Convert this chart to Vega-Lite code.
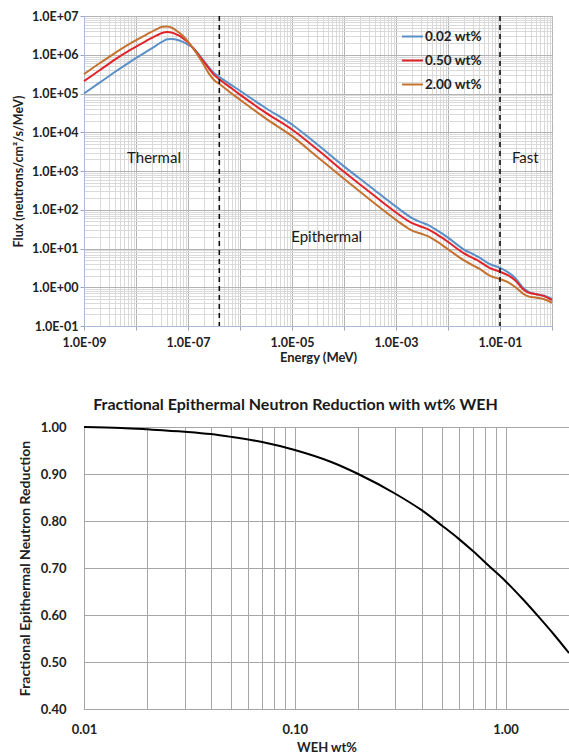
{
  "$schema": "https://vega.github.io/schema/vega-lite/v6.json",
  "background": "white",
  "padding": {"left": 11, "top": 9, "right": 0, "bottom": 0},
  "spacing": 31,
  "config": {"font": "Lato", "axis": {"labelFont": "Lato", "titleFont": "Lato"}},
  "datasets": {
    "flux": [
      {"E": 1e-9, "s": "0.02 wt%", "flux": 1.0e5}, {"E": 1.995e-9, "s": "0.02 wt%", "flux": 1.905e5}, {"E": 3.981e-9, "s": "0.02 wt%", "flux": 3.631e5}, {"E": 7.943e-9, "s": "0.02 wt%", "flux": 6.761e5}, {"E": 1.585e-8, "s": "0.02 wt%", "flux": 1.202e6}, {"E": 2.512e-8, "s": "0.02 wt%", "flux": 1.778e6}, {"E": 3.162e-8, "s": "0.02 wt%", "flux": 2.138e6}, {"E": 3.981e-8, "s": "0.02 wt%", "flux": 2.512e6}, {"E": 5.012e-8, "s": "0.02 wt%", "flux": 2.541e6}, {"E": 6.310e-8, "s": "0.02 wt%", "flux": 2.399e6}, {"E": 7.943e-8, "s": "0.02 wt%", "flux": 2.138e6}, {"E": 1e-7, "s": "0.02 wt%", "flux": 1.820e6}, {"E": 1.202e-7, "s": "0.02 wt%", "flux": 1.585e6}, {"E": 1.585e-7, "s": "0.02 wt%", "flux": 1.047e6}, {"E": 1.995e-7, "s": "0.02 wt%", "flux": 7.079e5}, {"E": 2.512e-7, "s": "0.02 wt%", "flux": 4.786e5}, {"E": 3.162e-7, "s": "0.02 wt%", "flux": 3.388e5}, {"E": 3.981e-7, "s": "0.02 wt%", "flux": 2.692e5}, {"E": 6.310e-7, "s": "0.02 wt%", "flux": 1.778e5}, {"E": 1e-6, "s": "0.02 wt%", "flux": 1.175e5}, {"E": 3.162e-6, "s": "0.02 wt%", "flux": 4.169e4}, {"E": 1e-5, "s": "0.02 wt%", "flux": 1.585e4}, {"E": 3.162e-5, "s": "0.02 wt%", "flux": 4677}, {"E": 1e-4, "s": "0.02 wt%", "flux": 1318}, {"E": 3.162e-4, "s": "0.02 wt%", "flux": 398.1}, {"E": 1e-3, "s": "0.02 wt%", "flux": 120.2}, {"E": 1.995e-3, "s": "0.02 wt%", "flux": 62.0}, {"E": 3.162e-3, "s": "0.02 wt%", "flux": 46.5}, {"E": 3.981e-3, "s": "0.02 wt%", "flux": 41.5}, {"E": 6.310e-3, "s": "0.02 wt%", "flux": 28.84}, {"E": 0.01, "s": "0.02 wt%", "flux": 19.05}, {"E": 0.01995, "s": "0.02 wt%", "flux": 9.55}, {"E": 0.03162, "s": "0.02 wt%", "flux": 6.918}, {"E": 0.03981, "s": "0.02 wt%", "flux": 5.888}, {"E": 0.0631, "s": "0.02 wt%", "flux": 3.981}, {"E": 0.1, "s": "0.02 wt%", "flux": 3.162}, {"E": 0.1413, "s": "0.02 wt%", "flux": 2.455}, {"E": 0.1995, "s": "0.02 wt%", "flux": 1.698}, {"E": 0.2818, "s": "0.02 wt%", "flux": 0.955}, {"E": 0.3548, "s": "0.02 wt%", "flux": 0.759}, {"E": 0.5012, "s": "0.02 wt%", "flux": 0.661}, {"E": 0.7079, "s": "0.02 wt%", "flux": 0.603}, {"E": 1.0, "s": "0.02 wt%", "flux": 0.501},
      {"E": 1e-9, "s": "0.50 wt%", "flux": 2.089e5}, {"E": 1.995e-9, "s": "0.50 wt%", "flux": 3.981e5}, {"E": 3.981e-9, "s": "0.50 wt%", "flux": 7.586e5}, {"E": 7.943e-9, "s": "0.50 wt%", "flux": 1.349e6}, {"E": 1.585e-8, "s": "0.50 wt%", "flux": 2.291e6}, {"E": 2.512e-8, "s": "0.50 wt%", "flux": 3.162e6}, {"E": 3.162e-8, "s": "0.50 wt%", "flux": 3.631e6}, {"E": 3.981e-8, "s": "0.50 wt%", "flux": 3.846e6}, {"E": 5.012e-8, "s": "0.50 wt%", "flux": 3.715e6}, {"E": 6.310e-8, "s": "0.50 wt%", "flux": 3.236e6}, {"E": 7.943e-8, "s": "0.50 wt%", "flux": 2.692e6}, {"E": 1e-7, "s": "0.50 wt%", "flux": 2.089e6}, {"E": 1.202e-7, "s": "0.50 wt%", "flux": 1.585e6}, {"E": 1.585e-7, "s": "0.50 wt%", "flux": 1.0e6}, {"E": 1.995e-7, "s": "0.50 wt%", "flux": 6.607e5}, {"E": 2.512e-7, "s": "0.50 wt%", "flux": 4.467e5}, {"E": 3.162e-7, "s": "0.50 wt%", "flux": 3.020e5}, {"E": 3.981e-7, "s": "0.50 wt%", "flux": 2.344e5}, {"E": 6.310e-7, "s": "0.50 wt%", "flux": 1.479e5}, {"E": 1e-6, "s": "0.50 wt%", "flux": 9.333e4}, {"E": 3.162e-6, "s": "0.50 wt%", "flux": 3.162e4}, {"E": 1e-5, "s": "0.50 wt%", "flux": 1.175e4}, {"E": 3.162e-5, "s": "0.50 wt%", "flux": 3467}, {"E": 1e-4, "s": "0.50 wt%", "flux": 955.0}, {"E": 3.162e-4, "s": "0.50 wt%", "flux": 281.8}, {"E": 1e-3, "s": "0.50 wt%", "flux": 85.11}, {"E": 1.995e-3, "s": "0.50 wt%", "flux": 45.9}, {"E": 3.162e-3, "s": "0.50 wt%", "flux": 36.0}, {"E": 3.981e-3, "s": "0.50 wt%", "flux": 32.0}, {"E": 6.310e-3, "s": "0.50 wt%", "flux": 22.39}, {"E": 0.01, "s": "0.50 wt%", "flux": 14.79}, {"E": 0.01995, "s": "0.50 wt%", "flux": 7.586}, {"E": 0.03162, "s": "0.50 wt%", "flux": 5.495}, {"E": 0.03981, "s": "0.50 wt%", "flux": 4.677}, {"E": 0.0631, "s": "0.50 wt%", "flux": 3.162}, {"E": 0.1, "s": "0.50 wt%", "flux": 2.512}, {"E": 0.1413, "s": "0.50 wt%", "flux": 2.042}, {"E": 0.1995, "s": "0.50 wt%", "flux": 1.479}, {"E": 0.2818, "s": "0.50 wt%", "flux": 0.871}, {"E": 0.3548, "s": "0.50 wt%", "flux": 0.724}, {"E": 0.5012, "s": "0.50 wt%", "flux": 0.661}, {"E": 0.7079, "s": "0.50 wt%", "flux": 0.589}, {"E": 1.0, "s": "0.50 wt%", "flux": 0.468},
      {"E": 1e-9, "s": "2.00 wt%", "flux": 3.162e5}, {"E": 1.995e-9, "s": "2.00 wt%", "flux": 6.026e5}, {"E": 3.981e-9, "s": "2.00 wt%", "flux": 1.122e6}, {"E": 7.943e-9, "s": "2.00 wt%", "flux": 1.995e6}, {"E": 1.585e-8, "s": "2.00 wt%", "flux": 3.311e6}, {"E": 2.512e-8, "s": "2.00 wt%", "flux": 4.571e6}, {"E": 3.162e-8, "s": "2.00 wt%", "flux": 5.248e6}, {"E": 3.981e-8, "s": "2.00 wt%", "flux": 5.370e6}, {"E": 5.012e-8, "s": "2.00 wt%", "flux": 4.898e6}, {"E": 6.310e-8, "s": "2.00 wt%", "flux": 3.981e6}, {"E": 7.943e-8, "s": "2.00 wt%", "flux": 3.090e6}, {"E": 1e-7, "s": "2.00 wt%", "flux": 2.188e6}, {"E": 1.202e-7, "s": "2.00 wt%", "flux": 1.585e6}, {"E": 1.585e-7, "s": "2.00 wt%", "flux": 9.120e5}, {"E": 1.995e-7, "s": "2.00 wt%", "flux": 5.623e5}, {"E": 2.512e-7, "s": "2.00 wt%", "flux": 3.311e5}, {"E": 3.162e-7, "s": "2.00 wt%", "flux": 2.239e5}, {"E": 3.981e-7, "s": "2.00 wt%", "flux": 1.778e5}, {"E": 6.310e-7, "s": "2.00 wt%", "flux": 1.096e5}, {"E": 1e-6, "s": "2.00 wt%", "flux": 6.918e4}, {"E": 3.162e-6, "s": "2.00 wt%", "flux": 2.239e4}, {"E": 1e-5, "s": "2.00 wt%", "flux": 7943}, {"E": 3.162e-5, "s": "2.00 wt%", "flux": 2239}, {"E": 1e-4, "s": "2.00 wt%", "flux": 631.0}, {"E": 3.162e-4, "s": "2.00 wt%", "flux": 182.0}, {"E": 1e-3, "s": "2.00 wt%", "flux": 54.95}, {"E": 1.995e-3, "s": "2.00 wt%", "flux": 29.5}, {"E": 3.162e-3, "s": "2.00 wt%", "flux": 23.6}, {"E": 3.981e-3, "s": "2.00 wt%", "flux": 21.2}, {"E": 6.310e-3, "s": "2.00 wt%", "flux": 14.79}, {"E": 0.01, "s": "2.00 wt%", "flux": 9.55}, {"E": 0.01995, "s": "2.00 wt%", "flux": 5.012}, {"E": 0.03162, "s": "2.00 wt%", "flux": 3.548}, {"E": 0.03981, "s": "2.00 wt%", "flux": 3.020}, {"E": 0.0631, "s": "2.00 wt%", "flux": 1.995}, {"E": 0.1, "s": "2.00 wt%", "flux": 1.622}, {"E": 0.1413, "s": "2.00 wt%", "flux": 1.349}, {"E": 0.1995, "s": "2.00 wt%", "flux": 1.0}, {"E": 0.2818, "s": "2.00 wt%", "flux": 0.676}, {"E": 0.3548, "s": "2.00 wt%", "flux": 0.575}, {"E": 0.5012, "s": "2.00 wt%", "flux": 0.537}, {"E": 0.7079, "s": "2.00 wt%", "flux": 0.490}, {"E": 1.0, "s": "2.00 wt%", "flux": 0.398}
    ],
    "cutoffs": [{"E": 4e-7}, {"E": 0.1}],
    "regions": [
      {"E": 2.22e-8, "flux": 2163, "label": "Thermal"},
      {"E": 4.64e-5, "flux": 20.2, "label": "Epithermal"},
      {"E": 0.307, "flux": 2163, "label": "Fast"}
    ],
    "reduction": [
      {"wt": 0.01, "frac": 1.0}, {"wt": 0.015, "frac": 0.998}, {"wt": 0.02, "frac": 0.995}, {"wt": 0.03, "frac": 0.990}, {"wt": 0.04, "frac": 0.985}, {"wt": 0.05, "frac": 0.979}, {"wt": 0.07, "frac": 0.968}, {"wt": 0.1, "frac": 0.951}, {"wt": 0.15, "frac": 0.925}, {"wt": 0.2, "frac": 0.900}, {"wt": 0.3, "frac": 0.858}, {"wt": 0.4, "frac": 0.823}, {"wt": 0.5, "frac": 0.790}, {"wt": 0.6, "frac": 0.762}, {"wt": 0.7, "frac": 0.736}, {"wt": 0.85, "frac": 0.701}, {"wt": 1.0, "frac": 0.672}, {"wt": 1.2, "frac": 0.635}, {"wt": 1.43, "frac": 0.597}, {"wt": 1.7, "frac": 0.558}, {"wt": 2.0, "frac": 0.519}
    ]
  },
  "vconcat": [
    {
      "width": 468,
      "height": 310,
      "view": {"stroke": "#9dbbdc", "strokeWidth": 1},
      "layer": [
        {
          "data": {"name": "flux"},
          "mark": {"type": "line", "strokeWidth": 2, "interpolate": "monotone"},
          "encoding": {
            "x": {
              "field": "E", "type": "quantitative", "title": "Energy (MeV)",
              "scale": {"type": "log", "domain": [1e-9, 1]},
              "axis": {
                "values": [1e-9, 2e-9, 3e-9, 4e-9, 5e-9, 6e-9, 7e-9, 8e-9, 9e-9, 1e-8, 2e-8, 3e-8, 4e-8, 5e-8, 6e-8, 7e-8, 8e-8, 9e-8, 1e-7, 2e-7, 3e-7, 4e-7, 5e-7, 6e-7, 7e-7, 8e-7, 9e-7, 1e-6, 2e-6, 3e-6, 4e-6, 5e-6, 6e-6, 7e-6, 8e-6, 9e-6, 1e-5, 2e-5, 3e-5, 4e-5, 5e-5, 6e-5, 7e-5, 8e-5, 9e-5, 1e-4, 2e-4, 3e-4, 4e-4, 5e-4, 6e-4, 7e-4, 8e-4, 9e-4, 1e-3, 2e-3, 3e-3, 4e-3, 5e-3, 6e-3, 7e-3, 8e-3, 9e-3, 0.01, 0.02, 0.03, 0.04, 0.05, 0.06, 0.07, 0.08, 0.09, 0.1, 0.2, 0.3, 0.4, 0.5, 0.6, 0.7, 0.8, 0.9, 1],
                "labelExpr": "abs(log(datum.value)/LN10 - round(log(datum.value)/LN10)) < 0.001 && round(log(datum.value)/LN10) % 2 != 0 ? '1.0E-0' + abs(round(log(datum.value)/LN10)) : ''",
                "labelOverlap": false, "labelFlush": false,
                "labelFontSize": 12.5, "labelFontWeight": "bold", "labelColor": "#222222", "labelPadding": 6,
                "tickSize": 4, "tickColor": "#9aa8b8",
                "tickOpacity": {"condition": {"test": "abs(log(datum.value)/LN10 - round(log(datum.value)/LN10)) < 0.001", "value": 1}, "value": 0},
                "gridColor": {"condition": {"test": "abs(log(datum.value)/LN10 - round(log(datum.value)/LN10)) < 0.001", "value": "#b3b3b3"}, "value": "#d9d9d9"},
                "gridWidth": 1,
                "domainColor": "#a9bdd6",
                "titleFontSize": 13, "titleFontWeight": "bold", "titleColor": "#222222", "titlePadding": 3
              }
            },
            "y": {
              "field": "flux", "type": "quantitative", "title": "Flux (neutrons/cm²/s/MeV)",
              "scale": {"type": "log", "domain": [0.1, 1e7]},
              "axis": {
                "values": [0.1, 0.2, 0.3, 0.4, 0.5, 0.6, 0.7, 0.8, 0.9, 1, 2, 3, 4, 5, 6, 7, 8, 9, 10, 20, 30, 40, 50, 60, 70, 80, 90, 100, 200, 300, 400, 500, 600, 700, 800, 900, 1000, 2000, 3000, 4000, 5000, 6000, 7000, 8000, 9000, 10000, 20000, 30000, 40000, 50000, 60000, 70000, 80000, 90000, 100000, 200000, 300000, 400000, 500000, 600000, 700000, 800000, 900000, 1000000, 2000000, 3000000, 4000000, 5000000, 6000000, 7000000, 8000000, 9000000, 10000000],
                "labelExpr": "abs(log(datum.value)/LN10 - round(log(datum.value)/LN10)) < 0.001 ? '1.0E' + (round(log(datum.value)/LN10) < 0 ? '-0' : '+0') + abs(round(log(datum.value)/LN10)) : ''",
                "labelOverlap": false, "labelFlush": false,
                "labelFontSize": 12.5, "labelFontWeight": "bold", "labelColor": "#222222", "labelPadding": 2,
                "tickSize": 4, "tickColor": "#9aa8b8",
                "tickOpacity": {"condition": {"test": "abs(log(datum.value)/LN10 - round(log(datum.value)/LN10)) < 0.001", "value": 1}, "value": 0},
                "gridColor": {"condition": {"test": "abs(log(datum.value)/LN10 - round(log(datum.value)/LN10)) < 0.001", "value": "#b3b3b3"}, "value": "#dadada"},
                "gridWidth": 1,
                "domainColor": "#a9bdd6",
                "titleFontSize": 12.5, "titleFontWeight": "bold", "titleColor": "#222222",
                "titleX": -66, "titleY": 155, "titleBaseline": "middle", "titleAngle": -90, "titleAlign": "center"
              }
            },
            "color": {
              "field": "s", "type": "nominal",
              "scale": {"domain": ["0.02 wt%", "0.50 wt%", "2.00 wt%"], "range": ["#5b8fc7", "#e2242a", "#c5722f"]},
              "legend": {
                "orient": "none", "legendX": 317, "legendY": 9, "title": null,
                "symbolType": "stroke", "symbolSize": 441, "symbolStrokeWidth": 2,
                "labelFont": "Lato", "labelFontSize": 13.5, "labelFontWeight": "bold", "labelColor": "#222222",
                "labelOffset": 1, "rowPadding": 6, "padding": 0
              }
            }
          }
        },
        {
          "data": {"name": "cutoffs"},
          "mark": {"type": "rule", "color": "#111111", "strokeWidth": 1.6, "strokeDash": [5, 4]},
          "encoding": {"x": {"field": "E", "type": "quantitative"}}
        },
        {
          "data": {"name": "regions"},
          "mark": {"type": "text", "font": "Lato", "fontSize": 15, "color": "#1a1a1a", "align": "center", "baseline": "middle"},
          "encoding": {
            "x": {"field": "E", "type": "quantitative"},
            "y": {"field": "flux", "type": "quantitative"},
            "text": {"field": "label"}
          }
        }
      ]
    },
    {
      "width": 485,
      "height": 282,
      "title": {"text": "Fractional Epithermal Neutron Reduction with wt% WEH", "font": "Lato", "fontSize": 16, "fontWeight": "bold", "color": "#1a1a1a", "offset": 8, "frame": "bounds", "anchor": "middle"},
      "view": {"stroke": "#a6a6a6", "strokeWidth": 1},
      "data": {"name": "reduction"},
      "mark": {"type": "line", "color": "#000000", "strokeWidth": 2, "interpolate": "monotone"},
      "encoding": {
        "x": {
          "field": "wt", "type": "quantitative", "title": "WEH wt%",
          "scale": {"type": "log", "domain": [0.01, 2]},
          "axis": {
            "values": [0.01, 0.02, 0.03, 0.04, 0.05, 0.06, 0.07, 0.08, 0.09, 0.1, 0.2, 0.3, 0.4, 0.5, 0.6, 0.7, 0.8, 0.9, 1, 2],
            "labelExpr": "abs(log(datum.value)/LN10 - round(log(datum.value)/LN10)) < 0.001 ? format(datum.value, '.2f') : ''",
            "labelOverlap": false, "labelFlush": false,
            "labelFontSize": 13, "labelFontWeight": "bold", "labelColor": "#222222", "labelPadding": 14,
            "ticks": false, "tickSize": 0,
            "gridColor": "#a6a6a6", "gridWidth": 1, "domainColor": "#a6a6a6",
            "titleFontSize": 13, "titleFontWeight": "bold", "titleColor": "#222222", "titlePadding": 5
          }
        },
        "y": {
          "field": "frac", "type": "quantitative", "title": "Fractional Epithermal Neutron Reduction",
          "scale": {"domain": [0.4, 1.0]},
          "axis": {
            "values": [0.4, 0.5, 0.6, 0.7, 0.8, 0.9, 1.0],
            "format": ".2f",
            "labelFontSize": 13, "labelFontWeight": "bold", "labelColor": "#222222", "labelPadding": 18,
            "ticks": false, "tickSize": 0,
            "gridColor": "#a6a6a6", "gridWidth": 1, "domainColor": "#a6a6a6",
            "titleFontSize": 14, "titleFontWeight": "bold", "titleColor": "#222222",
            "titleX": -59, "titleY": 141, "titleBaseline": "middle", "titleAngle": -90, "titleAlign": "center"
          }
        }
      }
    }
  ]
}
